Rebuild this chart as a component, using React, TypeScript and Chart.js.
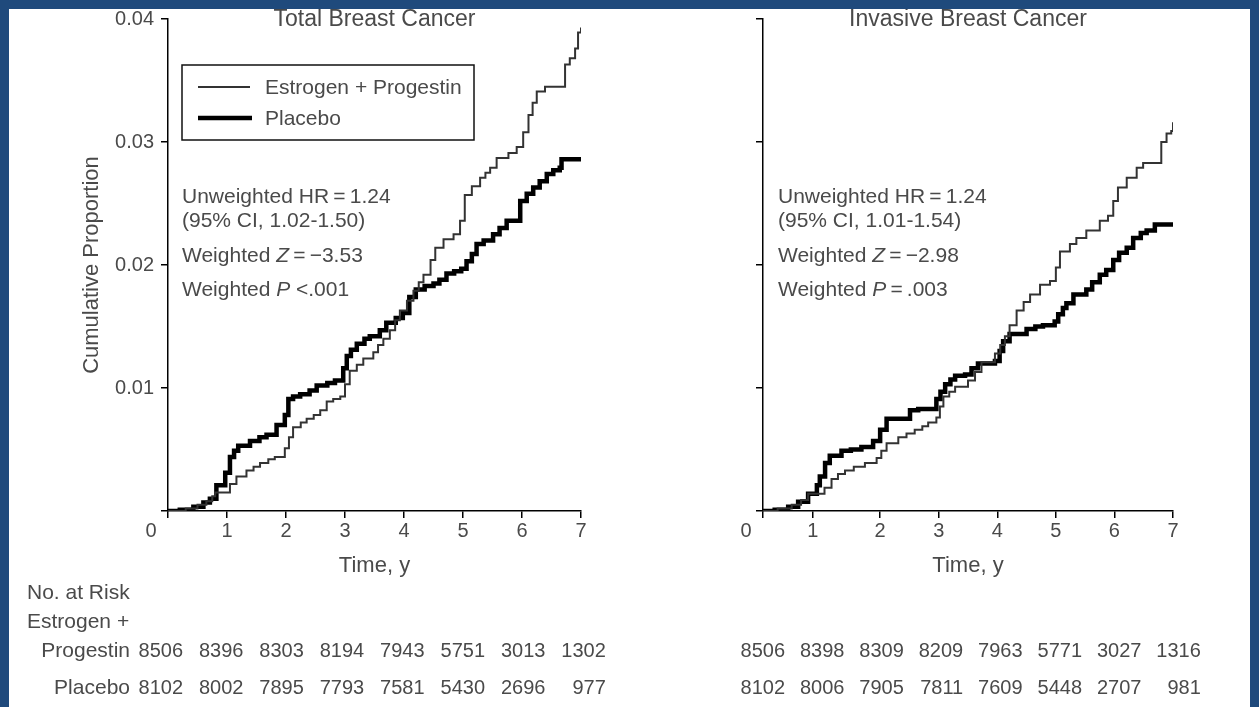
import React, { useEffect, useRef } from 'react';
import { Chart, registerables } from 'chart.js';

Chart.register(...registerables);

const FONT = '"Liberation Sans", Arial, Helvetica, sans-serif';
const TEXT = '#4a4a4a';
const BLUE = '#1f4a7c';

// ---------- data ----------
const TIME_LABELS = ['0', '1', '2', '3', '4', '5', '6', '7'];
const LEFT_TIME_TICKS = [0, 1, 2, 3, 4, 5, 6, 7];
const RIGHT_TIME_TICKS = [0, 0.85, 2, 3, 4, 5, 6, 7];
const Y_TICKS = [0, 0.01, 0.02, 0.03, 0.04];

const TOTAL_EP_T = [0, 0.3, 0.5, 0.65, 0.75, 0.8, 1.05, 1.16, 1.33, 1.45, 1.56, 1.7, 1.81, 1.98, 2.05, 2.12, 2.25, 2.35, 2.47, 2.58, 2.69, 2.8, 2.92, 3.0, 3.08, 3.2, 3.31, 3.48, 3.56, 3.65, 3.76, 3.85, 3.93, 4.05, 4.16, 4.25, 4.33, 4.45, 4.53, 4.67, 4.84, 4.95, 5.03, 5.15, 5.29, 5.38, 5.46, 5.57, 5.77, 5.91, 6.02, 6.11, 6.18, 6.25, 6.39, 6.73, 6.81, 6.9, 6.95, 7.0];
const TOTAL_EP_V = [0, 0.0002, 0.0005, 0.0008, 0.0012, 0.0015, 0.0022, 0.0028, 0.0033, 0.0036, 0.0039, 0.0042, 0.0044, 0.0051, 0.006, 0.0068, 0.0072, 0.0075, 0.0078, 0.0082, 0.0089, 0.0091, 0.0093, 0.0103, 0.0114, 0.0119, 0.0124, 0.0129, 0.0135, 0.014, 0.0147, 0.0155, 0.0163, 0.0171, 0.0179, 0.0186, 0.0192, 0.0204, 0.0214, 0.0221, 0.0225, 0.0236, 0.0257, 0.0264, 0.0271, 0.0275, 0.0279, 0.0287, 0.0291, 0.0296, 0.0308, 0.0322, 0.0332, 0.0341, 0.0345, 0.0363, 0.0368, 0.0376, 0.0389, 0.0393];

const TOTAL_PL_T = [0, 0.2, 0.43, 0.6, 0.71, 0.82, 0.97, 1.05, 1.12, 1.19, 1.39, 1.55, 1.67, 1.84, 1.98, 2.04, 2.12, 2.24, 2.4, 2.52, 2.7, 2.83, 2.97, 3.03, 3.1, 3.2, 3.33, 3.42, 3.59, 3.7, 3.86, 3.98, 4.09, 4.2, 4.35, 4.5, 4.6, 4.72, 4.85, 4.97, 5.06, 5.15, 5.23, 5.35, 5.51, 5.62, 5.74, 5.97, 6.08, 6.19, 6.3, 6.42, 6.53, 6.64, 6.67, 7.0];
const TOTAL_PL_V = [0, 0.0001, 0.00035, 0.0007, 0.001, 0.0021, 0.0031, 0.0044, 0.0049, 0.0053, 0.0057, 0.006, 0.0062, 0.007, 0.0078, 0.0091, 0.0093, 0.0095, 0.0098, 0.0102, 0.0104, 0.0106, 0.0116, 0.0126, 0.0131, 0.0136, 0.014, 0.0142, 0.0147, 0.0153, 0.0157, 0.0161, 0.0174, 0.018, 0.0183, 0.0185, 0.0188, 0.0193, 0.0195, 0.0197, 0.0203, 0.0209, 0.0217, 0.022, 0.0225, 0.023, 0.0236, 0.0252, 0.0258, 0.0263, 0.0268, 0.0274, 0.0277, 0.0279, 0.0286, 0.0286];

const INV_EP_T = [0, 0.25, 0.49, 0.65, 0.77, 1.05, 1.17, 1.28, 1.4, 1.55, 1.74, 1.94, 2.02, 2.11, 2.31, 2.45, 2.59, 2.72, 2.82, 2.96, 3.02, 3.08, 3.18, 3.28, 3.5, 3.62, 3.73, 3.96, 4.05, 4.13, 4.21, 4.33, 4.45, 4.56, 4.73, 4.9, 5.0, 5.07, 5.24, 5.35, 5.52, 5.75, 5.89, 5.98, 6.06, 6.21, 6.38, 6.49, 6.8, 6.89, 6.97, 7.0];
const INV_EP_V = [0, 0.0002, 0.0005, 0.0009, 0.0014, 0.0019, 0.0026, 0.003, 0.0033, 0.0036, 0.0039, 0.0043, 0.0049, 0.0055, 0.006, 0.0063, 0.0066, 0.0069, 0.0072, 0.0076, 0.0085, 0.0093, 0.0097, 0.0101, 0.0106, 0.0113, 0.0121, 0.0128, 0.0135, 0.0142, 0.0151, 0.0163, 0.017, 0.0176, 0.0184, 0.0187, 0.0198, 0.0211, 0.0217, 0.0222, 0.0228, 0.0236, 0.024, 0.0252, 0.0263, 0.0271, 0.0279, 0.0283, 0.03, 0.0307, 0.0309, 0.0316];

const INV_PL_T = [0, 0.2, 0.43, 0.6, 0.77, 0.92, 0.97, 1.06, 1.14, 1.34, 1.5, 1.68, 1.88, 2.0, 2.11, 2.51, 2.65, 2.96, 3.03, 3.11, 3.2, 3.28, 3.45, 3.56, 3.67, 3.96, 4.04, 4.1, 4.21, 4.5, 4.65, 4.78, 4.98, 5.04, 5.12, 5.18, 5.3, 5.52, 5.62, 5.75, 5.86, 5.98, 6.08, 6.21, 6.32, 6.45, 6.55, 6.69, 7.0];
const INV_PL_V = [0, 0.0001, 0.00035, 0.00075, 0.0014, 0.0021, 0.0028, 0.0039, 0.0045, 0.0049, 0.005, 0.0052, 0.0057, 0.0066, 0.0075, 0.0082, 0.0083, 0.0091, 0.0097, 0.0103, 0.0107, 0.011, 0.0111, 0.0116, 0.012, 0.0122, 0.013, 0.0138, 0.0144, 0.0148, 0.015, 0.0151, 0.0154, 0.016, 0.0165, 0.0169, 0.0176, 0.018, 0.0186, 0.0192, 0.0196, 0.0204, 0.021, 0.0214, 0.0222, 0.0226, 0.0228, 0.0233, 0.0233];

const RISK_TOTAL_EP = ['8506', '8396', '8303', '8194', '7943', '5751', '3013', '1302'];
const RISK_TOTAL_PL = ['8102', '8002', '7895', '7793', '7581', '5430', '2696', '977'];
const RISK_INV_EP = ['8506', '8398', '8309', '8209', '7963', '5771', '3027', '1316'];
const RISK_INV_PL = ['8102', '8006', '7905', '7811', '7609', '5448', '2707', '981'];

// ---------- layout ----------
const W = 1259;
const H = 707;
const PLOT_TOP = 17;
const PLOT_BOTTOM = 511;
const X_AXIS_H = 40;

type Seg = { t: string; i?: boolean };

interface PanelCfg {
  title: string;
  plotLeft: number;
  plotRight: number;
  yWidth: number;
  showYLabels: boolean;
  timeTicks: number[];
  ep: { t: number[]; v: number[] };
  pl: { t: number[]; v: number[] };
  stats: Seg[][];
  statsX: number;
  legend: boolean;
  riskEP: string[];
  riskPL: string[];
  riskRight0: number;
  riskStep: number;
  riskLabels: boolean;
}

const LEFT: PanelCfg = {
  title: 'Total Breast Cancer',
  plotLeft: 168,
  plotRight: 581,
  yWidth: 168,
  showYLabels: true,
  timeTicks: LEFT_TIME_TICKS,
  ep: { t: TOTAL_EP_T, v: TOTAL_EP_V },
  pl: { t: TOTAL_PL_T, v: TOTAL_PL_V },
  stats: [
    [{ t: 'Unweighted HR\u2009=\u20091.24' }],
    [{ t: '(95% CI, 1.02-1.50)' }],
    [{ t: 'Weighted ' }, { t: 'Z', i: true }, { t: '\u2009=\u2009\u22123.53' }],
    [{ t: 'Weighted ' }, { t: 'P', i: true }, { t: ' <.001' }],
  ],
  statsX: 182,
  legend: true,
  riskEP: RISK_TOTAL_EP,
  riskPL: RISK_TOTAL_PL,
  riskRight0: 183,
  riskStep: 60.4,
  riskLabels: true,
};

const RIGHT: PanelCfg = {
  title: 'Invasive Breast Cancer',
  plotLeft: 763,
  plotRight: 1173,
  yWidth: 60,
  showYLabels: false,
  timeTicks: RIGHT_TIME_TICKS,
  ep: { t: INV_EP_T, v: INV_EP_V },
  pl: { t: INV_PL_T, v: INV_PL_V },
  stats: [
    [{ t: 'Unweighted HR\u2009=\u20091.24' }],
    [{ t: '(95% CI, 1.01-1.54)' }],
    [{ t: 'Weighted ' }, { t: 'Z', i: true }, { t: '\u2009=\u2009\u22122.98' }],
    [{ t: 'Weighted ' }, { t: 'P', i: true }, { t: '\u2009=\u2009.003' }],
  ],
  statsX: 778,
  legend: false,
  riskEP: RISK_INV_EP,
  riskPL: RISK_INV_PL,
  riskRight0: 785,
  riskStep: 59.4,
  riskLabels: false,
};

const STATS_Y = [197, 221, 256, 290];

function drawRich(ctx: CanvasRenderingContext2D, segs: Seg[], x: number, y: number, size: number) {
  let cx = x;
  for (const s of segs) {
    ctx.font = `${s.i ? 'italic ' : ''}${size}px ${FONT}`;
    ctx.fillText(s.t, cx, y);
    cx += ctx.measureText(s.t).width;
  }
}

function makeTextPlugin(cfg: PanelCfg) {
  return {
    id: 'panelText',
    afterDraw(chart: any) {
      const ctx: CanvasRenderingContext2D = chart.ctx;
      const xs = chart.scales.x;
      const ys = chart.scales.y;
      const cx = (xs.left + xs.right) / 2;
      ctx.save();
      ctx.fillStyle = TEXT;

      // title (top clipped by the frame)
      ctx.textBaseline = 'alphabetic';
      ctx.font = `23px ${FONT}`;
      ctx.textAlign = 'center';
      ctx.fillText(cfg.title, cx, 26);

      ctx.textBaseline = 'middle';
      // origin "0"
      ctx.font = `20px ${FONT}`;
      ctx.fillText('0', xs.left - 17, ys.bottom + 20);

      // axis title
      ctx.font = `22px ${FONT}`;
      ctx.fillText('Time, y', cx, 566);

      if (cfg.showYLabels) {
        ctx.save();
        ctx.translate(92, 265);
        ctx.rotate(-Math.PI / 2);
        ctx.font = `22px ${FONT}`;
        ctx.fillText('Cumulative Proportion', 0, 0);
        ctx.restore();
      }

      // legend
      if (cfg.legend) {
        ctx.strokeStyle = '#111';
        ctx.lineWidth = 1.5;
        ctx.strokeRect(182, 65, 292, 75);
        ctx.beginPath();
        ctx.strokeStyle = '#333';
        ctx.lineWidth = 2;
        ctx.moveTo(198, 87);
        ctx.lineTo(250, 87);
        ctx.stroke();
        ctx.beginPath();
        ctx.strokeStyle = '#000';
        ctx.lineWidth = 4.5;
        ctx.moveTo(198, 118);
        ctx.lineTo(252, 118);
        ctx.stroke();
        ctx.textAlign = 'left';
        ctx.font = `21px ${FONT}`;
        ctx.fillText('Estrogen + Progestin', 265, 88);
        ctx.fillText('Placebo', 265, 119);
      }

      // stats
      ctx.textAlign = 'left';
      cfg.stats.forEach((segs, i) => drawRich(ctx, segs, cfg.statsX, STATS_Y[i], 21));

      // number at risk table
      if (cfg.riskLabels) {
        ctx.font = `21px ${FONT}`;
        ctx.textAlign = 'left';
        ctx.fillText('No. at Risk', 27, 593);
        ctx.fillText('Estrogen +', 27, 622);
        ctx.textAlign = 'right';
        ctx.fillText('Progestin', 130, 651);
        ctx.fillText('Placebo', 130, 688);
      }
      ctx.font = `20px ${FONT}`;
      ctx.textAlign = 'right';
      cfg.riskEP.forEach((s, i) => ctx.fillText(s, cfg.riskRight0 + i * cfg.riskStep, 651));
      cfg.riskPL.forEach((s, i) => ctx.fillText(s, cfg.riskRight0 + i * cfg.riskStep, 688));
      ctx.restore();
    },
  };
}

function Panel({ cfg }: { cfg: PanelCfg }) {
  const ref = useRef<HTMLCanvasElement>(null);
  useEffect(() => {
    const toPts = (s: { t: number[]; v: number[] }) => s.t.map((t, i) => ({ x: t, y: s.v[i] }));
    const axisLine = { display: true, color: '#000', width: 1.5 };
    const grid = {
      drawOnChartArea: false,
      drawTicks: true,
      tickLength: 7,
      color: '#000',
      lineWidth: 1.5,
      tickColor: '#000',
      tickWidth: 1.5,
    };
    const chart = new Chart(ref.current as HTMLCanvasElement, {
      type: 'line',
      data: {
        datasets: [
          {
            label: 'Estrogen + Progestin',
            data: toPts(cfg.ep),
            borderColor: '#333',
            borderWidth: 2,
            stepped: true,
            pointRadius: 0,
            fill: false,
          },
          {
            label: 'Placebo',
            data: toPts(cfg.pl),
            borderColor: '#000',
            borderWidth: 4.5,
            stepped: true,
            pointRadius: 0,
            fill: false,
          },
        ],
      },
      options: {
        animation: false,
        responsive: false,
        events: [],
        layout: {
          padding: {
            left: cfg.plotLeft - cfg.yWidth,
            right: W - cfg.plotRight,
            top: PLOT_TOP,
            bottom: H - PLOT_BOTTOM - X_AXIS_H,
          },
        },
        plugins: {
          legend: { display: false },
          title: { display: false },
          tooltip: { enabled: false },
        },
        scales: {
          x: {
            type: 'linear',
            min: 0,
            max: 7,
            border: axisLine,
            grid,
            afterBuildTicks: (s: any) => {
              s.ticks = cfg.timeTicks.map((v) => ({ value: v }));
            },
            afterFit: (s: any) => {
              s.height = X_AXIS_H;
            },
            ticks: {
              autoSkip: false,
              maxRotation: 0,
              padding: 1,
              color: TEXT,
              font: { family: FONT, size: 20 },
              callback: (_v: any, i: number) => (i === 0 ? '' : TIME_LABELS[i]),
            },
          },
          y: {
            type: 'linear',
            min: 0,
            max: 0.04,
            border: axisLine,
            grid,
            afterBuildTicks: (s: any) => {
              s.ticks = Y_TICKS.map((v) => ({ value: v }));
            },
            afterFit: (s: any) => {
              s.width = cfg.yWidth;
            },
            ticks: {
              autoSkip: false,
              padding: 7,
              color: TEXT,
              font: { family: FONT, size: 20 },
              callback: (v: any) => (cfg.showYLabels && v !== 0 ? Number(v).toFixed(2) : ''),
            },
          },
        },
      },
      plugins: [makeTextPlugin(cfg)],
    } as any);
    return () => chart.destroy();
  }, [cfg]);
  return (
    <canvas
      ref={ref}
      width={W}
      height={H}
      style={{ position: 'absolute', left: 0, top: 0, width: W, height: H }}
    />
  );
}

export default function App() {
  return (
    <div
      style={{
        position: 'fixed',
        left: 0,
        top: 0,
        width: W,
        height: H,
        background: '#fff',
        overflow: 'hidden',
      }}
    >
      <Panel cfg={LEFT} />
      <Panel cfg={RIGHT} />
      <div style={{ position: 'absolute', left: 0, top: 0, width: W, height: 9, background: BLUE }} />
      <div style={{ position: 'absolute', left: 0, top: 0, width: 9, height: H, background: BLUE }} />
      <div style={{ position: 'absolute', left: 1250, top: 0, width: 9, height: H, background: BLUE }} />
    </div>
  );
}
